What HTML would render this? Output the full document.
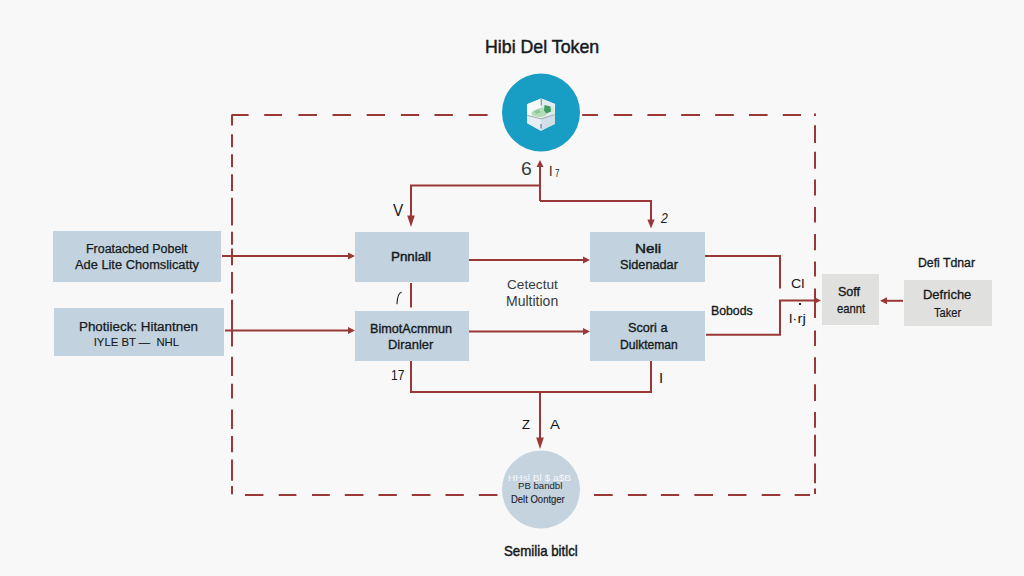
<!DOCTYPE html>
<html><head><meta charset="utf-8">
<style>
html,body{margin:0;padding:0;}
body{width:1024px;height:576px;overflow:hidden;background:#f7f8f7;position:relative;font-family:"Liberation Sans",sans-serif;color:#1b232b;}
.b{position:absolute;background:#c3d2df;}
.g{position:absolute;background:#e0e0de;}
.t{position:absolute;white-space:pre;line-height:1;transform-origin:0 0;}
svg{position:absolute;left:0;top:0;}
</style></head><body>

<!-- boxes -->
<div class="b" style="left:53px;top:231px;width:168px;height:51px"></div>
<div class="b" style="left:54px;top:308px;width:170px;height:48px"></div>
<div class="b" style="left:355px;top:232px;width:114px;height:50px"></div>
<div class="b" style="left:355px;top:311px;width:114px;height:50px"></div>
<div class="b" style="left:590px;top:232px;width:115px;height:50px"></div>
<div class="b" style="left:590px;top:311px;width:115px;height:50px"></div>
<div class="g" style="left:822px;top:274px;width:57px;height:51px"></div>
<div class="g" style="left:904px;top:280px;width:88px;height:46px"></div>

<svg width="1024" height="576" viewBox="0 0 1024 576">
  <g fill="none" stroke="#9a3838" stroke-width="2">
    <!-- dashed border -->
    <path d="M232 115V125.6 M232 134.3V147.3 M232 154.3V167.3 M232 174.2V191 M232 197.8V225.4 M232 231.7V244.7 M232 248.6V265.3 M232 272V293.4 M232 299.7V346.6 M232 356.7V376 M232 383.8V398.5 M232 409.6V428.9 M232 436.1V452.3 M232 459.5V480.8 M232 486V494.3"/>
    <path d="M815 113.5V116 M815 125.3V143 M815 151.7V168.7 M815 179.4V195.4 M815 207V222.6 M815 233.9V250.3 M815 261.6V276.4 M815 288.5V318 M815 330.4V346 M815 357.3V373.8 M815 384.2V401 M815 412V427.8 M815 434.7V456.4 M815 463.4V483.3 M815 488.5V494"/>
    <path d="M231.5 115H248.6 M264.2 115H282 M298.4 115H317 M332.5 115H350.9 M366.7 115H385 M400.9 115H419.2 M434.5 115H452.9 M468.7 115H487.6 M582.2 115H597.9 M613.7 115H632.2 M647.4 115H666 M681.2 115H700 M715.2 115H733.8 M749 115H767.6 M782.8 115H801"/>
    <path d="M245 495H263.4 M278.7 495H296.4 M312 495H329.8 M344.8 495H363.4 M378.5 495H396.8 M411.8 495H430.4 M445.5 495H463.8 M478.8 495H497.4 M594 495H612.7 M627.9 495H646.7 M660.9 495H679.2 M694.4 495H713 M728 495H746.5 M761.7 495H780.3 M794.7 495H810"/>

    <!-- connectors -->
    <path d="M222 256 H349"/>
    <path d="M225 330.5 H349"/>
    <path d="M469 260 H584"/>
    <path d="M469 331.5 H584"/>
    <path d="M705 256 H780 V288.5"/>
    <path d="M706 334.7 H780 V300.5 H815"/>
    <path d="M903 300.8 H886"/>
    <path d="M540 201 V166"/>
    <path d="M540 185.5 H411 V216"/>
    <path d="M540 201 H651 V220"/>
    <path d="M411 283 V307.6"/>
    <path d="M411 361 V392 H651 V361"/>
    <path d="M540 392 V438"/>
  </g>
  <g fill="#9a3838">
    <path d="M355 256 l-7 -3.5 v7z"/>
    <path d="M355 330.5 l-7 -3.5 v7z"/>
    <path d="M590 260 l-7 -3.5 v7z"/>
    <path d="M590 331.5 l-7 -3.5 v7z"/>
    <path d="M821 300.5 l-7 -3.5 v7z"/>
    <path d="M880 300.8 l7 -3.5 v7z"/>
    <path d="M540 160 l-3.5 7 h7z"/>
    <path d="M411 227 l-3.8 -11.5 h7.6z"/>
    <path d="M651 228.5 l-3.6 -9 h7.2z"/>
    <path d="M540 449 l-3.8 -11.5 h7.6z"/>
  </g>
  <!-- circles -->
  <circle cx="541" cy="112.5" r="39" fill="#189ec4"/>
  <g>
    <path d="M541.2 98.6 L555.1 104 L554.7 123.9 L540.9 130.7 L527.3 123.2 L527 104.3 Z" fill="#eef3f5"/>
    <path d="M541.2 98.6 L527 104.3 L527.3 115.4 L541.2 118.9 Z" fill="#f6f9f9"/>
    <path d="M541.2 98.6 L555.1 104 L554.7 114.6 L541.2 118.9 Z" fill="#e3ecec"/>
    <path d="M531.5 112 L538 108.5 L543 107.5 L547 111 L546 115.5 L540 117.5 L532 115.5 Z" fill="#b4dcb9"/>
    <path d="M534 111 L539 109.5 L541 112.5 L536 114 Z" fill="#8cc99a"/>
    <path d="M544.5 105 L550.5 106.5 L551 111.5 L546.5 113.5 L544 110.5 Z" fill="#3d9c62"/>
    <path d="M551 107 L553.5 108 L553.5 112 L551 112.5 Z" fill="#cfe9d3"/>
    <path d="M527.3 115.4 L541.2 118.9 L540.9 130.7 L527.3 123.2 Z" fill="#e6eef2"/>
    <path d="M541.2 118.9 L554.7 114.6 L554.7 123.9 L540.9 130.7 Z" fill="#d3dee7"/>
    <path d="M541.2 98.8 V105.5" stroke="#66808a" stroke-width="1" fill="none"/>
    <path d="M541 124 V128.5" stroke="#4f6d80" stroke-width="1" fill="none"/>
    <path d="M527.3 115.4 L541.2 118.9 L554.7 114.6" stroke="#8a9aa2" stroke-width="0.8" fill="none"/>
  </g>
  <circle cx="541" cy="489.5" r="39" fill="#c5d3de"/>
</svg>

<div style="position:absolute;left:799px;top:302.5px;width:2px;height:2.5px;background:#222"></div>
<svg width="1024" height="576" style="position:absolute;left:0;top:0"><path d="M401.3 292.2 C399 292.8 397.4 295 397 303.8" stroke="#1a1d20" stroke-width="1.1" fill="none" stroke-linecap="round"/></svg>
<div class="t" style="left:485.10px;top:39.37px;font-size:17.88px;color:#15191c;transform:scaleX(0.994);-webkit-text-stroke:0.45px #15191c;">Hibi Del Token</div>
<div class="t" style="left:85.89px;top:243.26px;font-size:12.21px;color:#141a20;transform:scaleX(1.018);-webkit-text-stroke:0.25px #141a20;">Froatacbed Pobelt</div>
<div class="t" style="left:75.20px;top:259.26px;font-size:12.21px;color:#141a20;transform:scaleX(1.051);-webkit-text-stroke:0.25px #141a20;">Ade Lite Chomslicatty</div>
<div class="t" style="left:79.00px;top:321.16px;font-size:12.21px;color:#141a20;transform:scaleX(1.097);-webkit-text-stroke:0.25px #141a20;">Photiieck: Hitantnen</div>
<div class="t" style="left:93.70px;top:337.40px;font-size:11.34px;color:#141a20;-webkit-text-stroke:0.1px #141a20;">IYLE BT —  NHL</div>
<div class="t" style="left:391.00px;top:250.43px;font-size:13.08px;color:#141a20;transform:scaleX(1.020);-webkit-text-stroke:0.45px #141a20;">Pnnlall</div>
<div class="t" style="left:370.20px;top:322.54px;font-size:12.35px;color:#141a20;transform:scaleX(1.022);-webkit-text-stroke:0.35px #141a20;">BimotAcmmun</div>
<div class="t" style="left:387.51px;top:338.92px;font-size:12.50px;color:#141a20;transform:scaleX(1.035);-webkit-text-stroke:0.3px #141a20;">Diranler</div>
<div class="t" style="left:635.28px;top:243.51px;font-size:11.92px;color:#141a20;transform:scaleX(1.274);-webkit-text-stroke:0.4px #141a20;">Neli</div>
<div class="t" style="left:619.70px;top:259.10px;font-size:12.65px;color:#141a20;transform:scaleX(1.005);-webkit-text-stroke:0.35px #141a20;">Sidenadar</div>
<div class="t" style="left:627.50px;top:322.24px;font-size:12.35px;color:#141a20;transform:scaleX(1.028);-webkit-text-stroke:0.35px #141a20;">Scori a</div>
<div class="t" style="left:619.71px;top:338.94px;font-size:12.35px;color:#141a20;transform:scaleX(0.979);-webkit-text-stroke:0.35px #141a20;">Dulkteman</div>
<div class="t" style="left:507.01px;top:278.87px;font-size:12.79px;color:#383c40;transform:scaleX(1.068);">Cetectut</div>
<div class="t" style="left:506.10px;top:294.99px;font-size:13.95px;color:#383c40;transform:scaleX(1.006);">Multition</div>
<div class="t" style="left:711.01px;top:304.65px;font-size:12.94px;color:#15191c;transform:scaleX(0.949);-webkit-text-stroke:0.35px #15191c;">Bobods</div>
<div class="t" style="left:838.00px;top:287.21px;font-size:11.92px;color:#15191c;transform:scaleX(1.050);-webkit-text-stroke:0.35px #15191c;">Soff</div>
<div class="t" style="left:836.90px;top:302.00px;font-size:13.54px;color:#15191c;transform:scaleX(0.831);-webkit-text-stroke:0.3px #15191c;">eannt</div>
<div class="t" style="left:917.71px;top:256.13px;font-size:13.08px;color:#15191c;transform:scaleX(0.937);-webkit-text-stroke:0.35px #15191c;">Defi Tdnar</div>
<div class="t" style="left:922.90px;top:289.22px;font-size:12.50px;color:#15191c;transform:scaleX(1.038);-webkit-text-stroke:0.3px #15191c;">Defriche</div>
<div class="t" style="left:934.30px;top:307.49px;font-size:12.06px;color:#15191c;transform:scaleX(0.921);-webkit-text-stroke:0.2px #15191c;">Taker</div>
<div class="t" style="left:503.51px;top:544.27px;font-size:14.10px;color:#15191c;transform:scaleX(0.942);-webkit-text-stroke:0.45px #15191c;">Semilia bitlcl</div>
<div class="t" style="left:521.12px;top:161.20px;font-size:17.61px;color:#3a3d40;transform:scaleX(1.104);">6</div>
<div class="t" style="left:549.35px;top:163.60px;font-size:14.64px;color:#15191c;transform:scaleX(0.857);">I</div>
<div class="t" style="left:554.62px;top:168.00px;font-size:11.03px;color:#15191c;transform:scaleX(0.715);">7</div>
<div class="t" style="left:393.00px;top:203.20px;font-size:15.80px;color:#15191c;transform:scaleX(0.970);">V</div>
<div class="t" style="left:660.90px;top:211.00px;font-size:14.00px;font-style:italic;color:#15191c;transform:scaleX(0.875);">2</div>
<div class="t" style="left:391.32px;top:367.60px;font-size:14.93px;color:#15191c;transform:scaleX(0.809);">17</div>
<div class="t" style="left:659.40px;top:370.60px;font-size:14.78px;color:#15191c;transform:scaleX(1.024);">I</div>
<div class="t" style="left:522.10px;top:417.50px;font-size:13.48px;color:#15191c;transform:scaleX(0.963);">Z</div>
<div class="t" style="left:550.00px;top:417.50px;font-size:13.48px;color:#15191c;transform:scaleX(1.103);">A</div>
<div class="t" style="left:790.67px;top:278.00px;font-size:12.97px;color:#15191c;transform:scaleX(1.093);">Cl</div>
<div class="t" style="left:788.96px;top:311.66px;font-size:13.52px;color:#15191c;transform:scaleX(1.117);">l·rj</div>
<div class="t" style="left:508.40px;top:474.40px;font-size:9.14px;color:#f4f7fa;transform:scaleX(1.111);">HHsl Bl $ a$B</div>
<div class="t" style="left:517.82px;top:482.40px;font-size:8.65px;color:#1c242c;transform:scaleX(1.114);">PB bandbl</div>
<div class="t" style="left:511.49px;top:494.20px;font-size:10.76px;color:#1c242c;transform:scaleX(0.882);-webkit-text-stroke:0.15px #1c242c;">Delt Oontger</div>

</body></html>
